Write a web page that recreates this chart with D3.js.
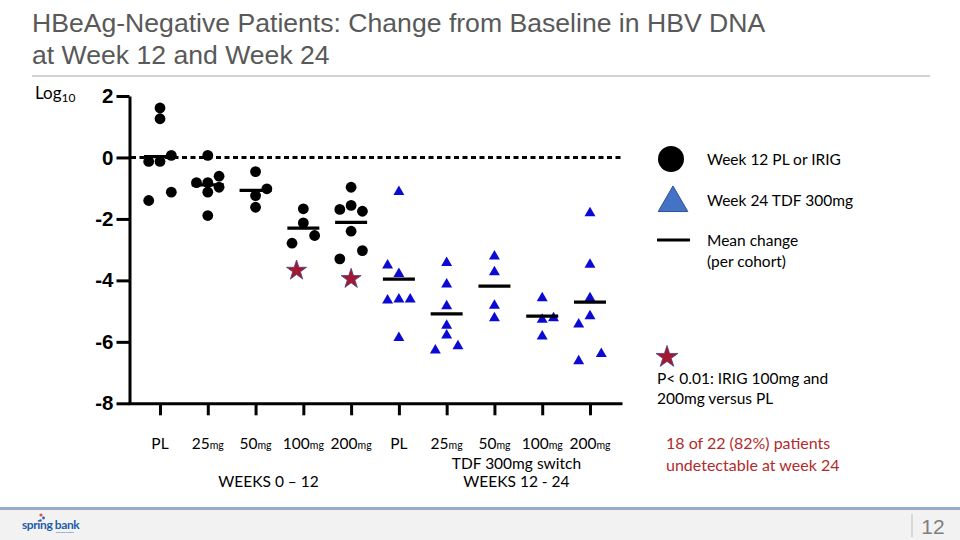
<!DOCTYPE html>
<html>
<head>
<meta charset="utf-8">
<script src="https://cdn.jsdelivr.net/npm/d3@7"></script>
<style>
  html, body { margin: 0; padding: 0; background: #ffffff; }
  svg { display: block; }
</style>
</head>
<body>
<svg id="chart" width="960" height="540"></svg>
<script>
// ---------------- DATA ----------------
const categories = ["w12-PL","w12-25","w12-50","w12-100","w12-200","w24-PL","w24-25","w24-50","w24-100","w24-200"];
const categoryDose = ["PL","25","50","100","200","PL","25","50","100","200"];
const categoryUnit = ["","mg","mg","mg","mg","","mg","mg","mg","mg"];
const yTicks = [2, 0, -2, -4, -6, -8];

// Week 12 (circles) individual changes, log10, per cohort
const week12PL   = [1.61, 1.26, 0.07, -0.13, -0.13, -1.13, -1.40];
const week12_25  = [0.07, -0.61, -0.82, -0.82, -0.97, -1.13, -1.89];
const week12_50  = [-0.46, -1.02, -1.24, -1.62];
const week12_100 = [-1.67, -2.13, -2.54, -2.79];
const week12_200 = [-0.97, -1.56, -1.69, -1.75, -2.40, -3.03, -3.30];
// side-by-side column index of each point inside its cohort (overlap dodge)
const week12PLCol   = [0, 0, 1, -1, 0, 1, -1];
const week12_25Col  = [0, 1, -1, 0, 1, 0, 0];
const week12_50Col  = [0, 1, 0, 0];
const week12_100Col = [0, 0, 1, -1];
const week12_200Col = [0, 0, -1, 1, 0, 1, -1];

// Week 24 (triangles) after TDF 300mg switch
const week24PL   = [-1.07, -3.46, -3.74, -4.57, -4.57, -4.60, -5.82];
const week24_25  = [-3.38, -4.08, -4.79, -5.42, -5.74, -6.09, -6.23];
const week24_50  = [-3.17, -3.68, -4.77, -5.18];
const week24_100 = [-4.53, -5.18, -5.23, -5.77];
const week24_200 = [-1.76, -3.44, -4.53, -5.11, -5.38, -6.34, -6.58];
const week24PLCol   = [0, -1, 0, 0, 1, -1, 0];
const week24_25Col  = [0, 0, 0, 0, 0, 1, -1];
const week24_50Col  = [0, 0, 0, 0];
const week24_100Col = [0, 1, 0, 0];
const week24_200Col = [0, 0, 0, 0, -1, 1, -1];

// Mean change per cohort
const week12Mean = [0.03, -0.89, -1.07, -2.30, -2.11];
const week24Mean = [-3.96, -5.09, -4.19, -5.16, -4.71];

// Significance stars (p<0.01 vs PL)
const starCategories = ["w12-100", "w12-200"];
const starValues = [-3.68, -3.95];
const starCol = [-0.6, 0];

// ---------------- BUILD ----------------
const w12Values = [week12PL, week12_25, week12_50, week12_100, week12_200];
const w12Cols = [week12PLCol, week12_25Col, week12_50Col, week12_100Col, week12_200Col];
const w24Values = [week24PL, week24_25, week24_50, week24_100, week24_200];
const w24Cols = [week24PLCol, week24_25Col, week24_50Col, week24_100Col, week24_200Col];

const circlePts = [];
w12Values.forEach((arr, gi) => arr.forEach((v, i) => circlePts.push({cat: categories[gi], v, col: w12Cols[gi][i]})));
const trianglePts = [];
w24Values.forEach((arr, gi) => arr.forEach((v, i) => trianglePts.push({cat: categories[gi + 5], v, col: w24Cols[gi][i]})));
const meanPts = week12Mean.map((v, i) => ({cat: categories[i], v}))
  .concat(week24Mean.map((v, i) => ({cat: categories[i + 5], v})));
const starPts = starCategories.map((c, i) => ({cat: c, v: starValues[i], col: starCol[i]}));

const svg = d3.select("#chart");
const FONT_BODY = "Lato, 'Open Sans', sans-serif";
const FONT_TITLE = "'Liberation Sans', Arial, sans-serif";

// Scales
const x = d3.scalePoint().domain(categories).range([128, 622]).padding(0.67);
const y = d3.scaleLinear().domain([-8, 2]).range([403.3, 96]);
const dodge = d3.scaleLinear().domain([-1, 1]).range([-11.3, 11.3]);

// ---------------- TITLE ----------------
svg.append("text").attr("x", 32).attr("y", 32)
  .attr("font-family", FONT_TITLE).attr("font-size", 26.6).attr("fill", "#595959")
  .text("HBeAg-Negative Patients: Change from Baseline in HBV DNA");
svg.append("text").attr("x", 32).attr("y", 64)
  .attr("font-family", FONT_TITLE).attr("font-size", 26.6).attr("fill", "#595959")
  .text("at Week 12 and Week 24");
svg.append("line").attr("x1", 32).attr("x2", 930).attr("y1", 76).attr("y2", 76)
  .attr("stroke", "#a6a6a6").attr("stroke-width", 1.2);

// Log10 label
const logT = svg.append("text").attr("x", 35).attr("y", 99)
  .attr("font-family", FONT_BODY).attr("font-size", 17).attr("fill", "#000");
logT.append("tspan").text("Log");
logT.append("tspan").attr("font-size", 12).attr("dy", 3).text("10");

// ---------------- AXES ----------------
const yAxis = svg.append("g").attr("transform", `translate(${x.range()[0] + 1.5},0)`)
  .call(d3.axisLeft(y).tickValues(yTicks).tickSize(13).tickSizeOuter(0).tickPadding(3)
    .tickFormat(d => String(d)));
yAxis.select(".domain").attr("stroke-width", 3).attr("stroke", "#000");
yAxis.selectAll(".tick line").attr("stroke-width", 3).attr("stroke", "#000");
yAxis.selectAll(".tick text").attr("font-family", FONT_TITLE).attr("font-weight", "bold")
  .attr("font-size", 20.5).attr("fill", "#000");

const xAxis = svg.append("g").attr("transform", `translate(0,${y(-8)})`)
  .call(d3.axisBottom(x).tickSize(12).tickSizeOuter(0).tickFormat(""));
xAxis.select(".domain").attr("stroke-width", 3).attr("stroke", "#000");
xAxis.selectAll(".tick line").attr("stroke-width", 3).attr("stroke", "#000");

// Category labels
const catLab = svg.append("g").selectAll("text").data(categories).join("text")
  .attr("x", d => x(d)).attr("y", 449).attr("text-anchor", "middle")
  .attr("font-family", FONT_BODY).attr("font-size", 15.5).attr("fill", "#000");
catLab.append("tspan").text((d, i) => categoryDose[i]);
catLab.append("tspan").attr("font-size", 10.5).text((d, i) => categoryUnit[i]);

// Group labels
const midW12 = (x(categories[0]) + x(categories[4])) / 2;
const midW24 = (x(categories[5]) + x(categories[9])) / 2;
svg.append("text").attr("x", midW12 + 13).attr("y", 487).attr("text-anchor", "middle")
  .attr("font-family", FONT_BODY).attr("font-size", 15.5).text("WEEKS 0 \u2013 12");
svg.append("text").attr("x", midW24 + 22).attr("y", 469).attr("text-anchor", "middle")
  .attr("font-family", FONT_BODY).attr("font-size", 15.5).text("TDF 300mg switch");
svg.append("text").attr("x", midW24 + 22).attr("y", 487).attr("text-anchor", "middle")
  .attr("font-family", FONT_BODY).attr("font-size", 15.5).text("WEEKS 12 - 24");

// Zero reference line
svg.append("line").attr("x1", x.range()[0] + 3).attr("x2", x.range()[1])
  .attr("y1", y(0)).attr("y2", y(0))
  .attr("stroke", "#000").attr("stroke-width", 3).attr("stroke-dasharray", "5,3.5");

// ---------------- MARKS ----------------
svg.append("g").selectAll("circle").data(circlePts).join("circle")
  .attr("cx", d => x(d.cat) + dodge(d.col)).attr("cy", d => y(d.v))
  .attr("r", 5.4).attr("fill", "#000");

const tri = d3.symbol().type(d3.symbolTriangle).size(52);
svg.append("g").selectAll("path").data(trianglePts).join("path")
  .attr("transform", d => `translate(${x(d.cat) + dodge(d.col)},${y(d.v) + 1.5})`)
  .attr("d", tri).attr("fill", "#0a0ad2");

svg.append("g").selectAll("line").data(meanPts).join("line")
  .attr("x1", d => x(d.cat) - 16).attr("x2", d => x(d.cat) + 16)
  .attr("y1", d => y(d.v)).attr("y2", d => y(d.v))
  .attr("stroke", "#000").attr("stroke-width", 3.2);

const star = d3.symbol().type(d3.symbolStar).size(125);
svg.append("g").selectAll("path").data(starPts).join("path")
  .attr("transform", d => `translate(${x(d.cat) + dodge(d.col)},${y(d.v)})`)
  .attr("d", star).attr("fill", "#a11830").attr("stroke", "#4f3f78").attr("stroke-width", 0.8);

// ---------------- LEGEND ----------------
const lg = svg.append("g").attr("font-family", FONT_BODY).attr("font-size", 15.5).attr("fill", "#000");
lg.append("circle").attr("cx", 671).attr("cy", 159).attr("r", 13).attr("fill", "#000");
lg.append("text").attr("x", 707).attr("y", 165).text("Week 12 PL or IRIG");
lg.append("path").attr("transform", "translate(673,203)")
  .attr("d", d3.symbol().type(d3.symbolTriangle).size(380))
  .attr("fill", "#4472c4").attr("stroke", "#2f528f").attr("stroke-width", 1);
lg.append("text").attr("x", 707).attr("y", 206).text("Week 24 TDF 300mg");
lg.append("line").attr("x1", 657).attr("x2", 690).attr("y1", 240).attr("y2", 240)
  .attr("stroke", "#000").attr("stroke-width", 3);
lg.append("text").attr("x", 707).attr("y", 246).text("Mean change");
lg.append("text").attr("x", 707).attr("y", 267).text("(per cohort)");

lg.append("path").attr("transform", "translate(667,357)")
  .attr("d", d3.symbol().type(d3.symbolStar).size(150))
  .attr("fill", "#a11830").attr("stroke", "#4f3f78").attr("stroke-width", 0.8);
lg.append("text").attr("x", 657).attr("y", 384).text("P< 0.01: IRIG 100mg and");
lg.append("text").attr("x", 657).attr("y", 404).text("200mg versus PL");

lg.append("text").attr("x", 666).attr("y", 449).attr("fill", "#b22b2b").attr("font-size", 16).text("18 of 22 (82%) patients");
lg.append("text").attr("x", 666).attr("y", 471).attr("fill", "#b22b2b").attr("font-size", 16).text("undetectable at week 24");

// ---------------- FOOTER ----------------
svg.append("rect").attr("x", 0).attr("y", 510).attr("width", 960).attr("height", 30).attr("fill", "#f2f2f2");
svg.append("line").attr("x1", 0).attr("x2", 960).attr("y1", 508.5).attr("y2", 508.5)
  .attr("stroke", "#95adc9").attr("stroke-width", 3);
svg.append("circle").attr("cx", 41).attr("cy", 515).attr("r", 1.6).attr("fill", "#d9534f");
svg.append("circle").attr("cx", 43.5).attr("cy", 518).attr("r", 1.4).attr("fill", "#2a62b0");
svg.append("circle").attr("cx", 40.5).attr("cy", 520.5).attr("r", 1.2).attr("fill", "#2a62b0");
svg.append("text").attr("x", 22).attr("y", 529).attr("font-family", FONT_BODY).attr("font-weight", "bold")
  .attr("font-size", 12).attr("fill", "#1f5ca8").attr("letter-spacing", -0.4).text("spring bank");
svg.append("text").attr("x", 56).attr("y", 533).attr("font-family", FONT_BODY)
  .attr("font-size", 2.5).attr("fill", "#1f5ca8").text("pharmaceuticals");
svg.append("line").attr("x1", 912).attr("x2", 912).attr("y1", 514).attr("y2", 537)
  .attr("stroke", "#bfbfbf").attr("stroke-width", 1);
svg.append("text").attr("x", 933).attr("y", 534).attr("text-anchor", "middle")
  .attr("font-family", FONT_TITLE).attr("font-size", 21).attr("fill", "#7f7f7f").text("12");
</script>
</body>
</html>
